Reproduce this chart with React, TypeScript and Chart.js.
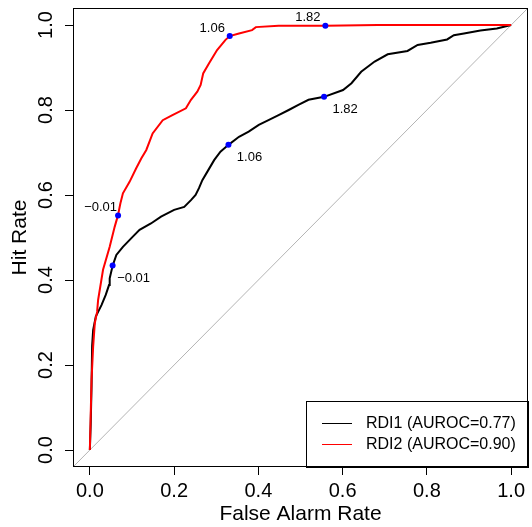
import React, { useEffect, useRef } from "react";
import { Chart, registerables } from "chart.js";

Chart.register(...registerables);

// ROC curve of RDI1 (false alarm rate, hit rate)
const rdi1Fpr = [0, 0.002, 0.004, 0.0054, 0.0078, 0.0141, 0.0196, 0.0276, 0.0377, 0.0455, 0.0471, 0.0542, 0.0629, 0.0785, 0.102, 0.118, 0.145, 0.169, 0.2, 0.224, 0.24, 0.251, 0.259, 0.267, 0.279, 0.295, 0.31, 0.329, 0.354, 0.377, 0.401, 0.424, 0.448, 0.472, 0.495, 0.519, 0.556, 0.601, 0.621, 0.644, 0.676, 0.707, 0.754, 0.778, 0.809, 0.848, 0.864, 0.888, 0.927, 0.966, 1];
const rdi1Tpr = [0, 0.06, 0.15, 0.245, 0.282, 0.314, 0.325, 0.341, 0.365, 0.388, 0.404, 0.434, 0.459, 0.478, 0.502, 0.518, 0.533, 0.549, 0.565, 0.572, 0.588, 0.6, 0.616, 0.635, 0.655, 0.682, 0.702, 0.718, 0.737, 0.749, 0.765, 0.776, 0.788, 0.8, 0.812, 0.824, 0.831, 0.847, 0.863, 0.89, 0.914, 0.931, 0.939, 0.953, 0.958, 0.966, 0.976, 0.98, 0.987, 0.992, 1];

// ROC curve of RDI2
const rdi2Fpr = [0, 0.004, 0.0078, 0.0118, 0.0172, 0.0196, 0.0313, 0.0471, 0.0589, 0.0667, 0.0724, 0.0785, 0.0943, 0.11, 0.122, 0.134, 0.149, 0.173, 0.196, 0.228, 0.24, 0.255, 0.263, 0.269, 0.283, 0.302, 0.322, 0.332, 0.354, 0.385, 0.394, 0.448, 0.559, 0.683, 1];
const rdi2Tpr = [0, 0.165, 0.243, 0.299, 0.325, 0.353, 0.424, 0.478, 0.525, 0.552, 0.58, 0.604, 0.631, 0.663, 0.686, 0.706, 0.745, 0.776, 0.788, 0.804, 0.824, 0.843, 0.859, 0.886, 0.91, 0.941, 0.965, 0.974, 0.98, 0.988, 0.995, 0.998, 0.998, 1, 1];

// cut-off points
const cutoffLabels = ["\u22120.01", "1.06", "1.82"];
const rdi1CutFpr = [0.054, 0.329, 0.556];
const rdi1CutTpr = [0.434, 0.718, 0.831];
const rdi2CutFpr = [0.067, 0.332, 0.559];
const rdi2CutTpr = [0.552, 0.974, 0.998];

const axisTicks = [0, 0.2, 0.4, 0.6, 0.8, 1.0];
const seriesNames = ["RDI1 (AUROC=0.77)", "RDI2 (AUROC=0.90)"];
const seriesColors = ["#000000", "#ff0000"];

const FONT = "'Liberation Sans', Arial, Helvetica, sans-serif";

const toXY = (xs: number[], ys: number[]) => xs.map((x, i) => ({ x, y: ys[i] }));

export default function App() {
  const ref = useRef<HTMLCanvasElement | null>(null);

  useEffect(() => {
    if (!ref.current) return;

    const boxPlugin = {
      id: "rbox",
      afterDraw(chart: any) {
        const { ctx, chartArea: a } = chart;
        ctx.save();
        ctx.strokeStyle = "#000";
        ctx.lineWidth = 1;
        ctx.strokeRect(Math.round(a.left) + 0.5, Math.round(a.top) + 0.5, Math.round(a.right - a.left) - 1, Math.round(a.bottom - a.top) - 1);
        // legend
        const lw = 222, lh = 66;
        const lx = a.right - lw, ly = a.bottom - lh;
        ctx.strokeRect(Math.round(lx) + 0.5, Math.round(ly) + 0.5, lw, lh);
        ctx.font = `16px ${FONT}`;
        ctx.textBaseline = "middle";
        ctx.textAlign = "left";
        seriesNames.forEach((name, i) => {
          const y = ly + 21.5 + i * 21;
          ctx.strokeStyle = seriesColors[i];
          ctx.lineWidth = 1;
          ctx.beginPath();
          ctx.moveTo(lx + 16, Math.round(y) + 0.5);
          ctx.lineTo(lx + 46, Math.round(y) + 0.5);
          ctx.stroke();
          ctx.fillStyle = "#000";
          ctx.fillText(name, lx + 60, y + 1);
        });
        ctx.restore();
      },
      afterDatasetsDraw(chart: any) {
        const { ctx } = chart;
        ctx.save();
        ctx.font = `13px ${FONT}`;
        ctx.fillStyle = "#000";
        ctx.textAlign = "center";
        ctx.textBaseline = "middle";
        const m1 = chart.getDatasetMeta(3);
        const m2 = chart.getDatasetMeta(4);
        cutoffLabels.forEach((lab, i) => {
          const p1 = m1.data[i];
          ctx.fillText(lab, p1.x + 21, p1.y + 13);
          const p2 = m2.data[i];
          ctx.fillText(lab, p2.x - 17.5, p2.y - 8);
        });
        ctx.restore();
      },
    };

    const chart = new Chart(ref.current, {
      type: "scatter",
      data: {
        datasets: [
          {
            label: "diag",
            data: [{ x: -0.04, y: -0.04 }, { x: 1.04, y: 1.04 }],
            showLine: true,
            borderColor: "#b4b4b4",
            borderWidth: 1,
            pointRadius: 0,
            order: 4,
          },
          {
            label: seriesNames[0],
            data: toXY(rdi1Fpr, rdi1Tpr),
            showLine: true,
            borderColor: seriesColors[0],
            borderWidth: 2,
            pointRadius: 0,
            order: 3,
          },
          {
            label: seriesNames[1],
            data: toXY(rdi2Fpr, rdi2Tpr),
            showLine: true,
            borderColor: seriesColors[1],
            borderWidth: 2,
            pointRadius: 0,
            order: 2,
          },
          {
            label: "cut1",
            data: toXY(rdi1CutFpr, rdi1CutTpr),
            pointRadius: 3,
            pointBackgroundColor: "#0000ff",
            pointBorderWidth: 0,
            order: 1,
          },
          {
            label: "cut2",
            data: toXY(rdi2CutFpr, rdi2CutTpr),
            pointRadius: 3,
            pointBackgroundColor: "#0000ff",
            pointBorderWidth: 0,
            order: 0,
          },
        ],
      },
      options: {
        animation: false,
        responsive: false,
        maintainAspectRatio: false,
        layout: { padding: { top: 8, right: 1, left: 0, bottom: 0 } },
        plugins: { legend: { display: false }, tooltip: { enabled: false } },
        scales: {
          x: {
            type: "linear",
            min: -0.04,
            max: 1.04,
            afterBuildTicks: (s: any) => {
              s.ticks = axisTicks.map((v) => ({ value: v }));
            },
            afterFit: (s: any) => {
              s.height = 60;
              s.paddingLeft = 0;
              s.paddingRight = 0;
            },
            grid: { drawOnChartArea: false, drawTicks: true, tickLength: 8, color: "#000", lineWidth: 1 },
            border: { display: false },
            ticks: {
              color: "#000",
              font: { family: FONT, size: 20 },
              padding: 4,
              maxRotation: 0,
              callback: (v: any) => Number(v).toFixed(1),
            },
            title: {
              display: true,
              text: "False Alarm Rate",
              color: "#000",
              font: { family: FONT, size: 21 },
              padding: { top: 0, bottom: 0 },
            },
          },
          y: {
            type: "linear",
            min: -0.04,
            max: 1.04,
            afterBuildTicks: (s: any) => {
              s.ticks = axisTicks.map((v) => ({ value: v }));
            },
            afterFit: (s: any) => {
              s.width = 73;
              s.paddingTop = 0;
              s.paddingBottom = 0;
            },
            grid: { drawOnChartArea: false, drawTicks: true, tickLength: 8, color: "#000", lineWidth: 1 },
            border: { display: false },
            ticks: {
              color: "#000",
              font: { family: FONT, size: 20 },
              padding: 5,
              minRotation: 90,
              maxRotation: 90,
              crossAlign: "center",
              callback: (v: any) => Number(v).toFixed(1),
            },
            title: {
              display: true,
              text: "Hit Rate",
              color: "#000",
              font: { family: FONT, size: 21 },
              padding: { top: 8, bottom: 0 },
            },
          },
        },
      },
      plugins: [boxPlugin],
    } as any);

    return () => chart.destroy();
  }, []);

  return (
    <div style={{ position: "fixed", left: 0, top: 0, width: 532, height: 527, background: "#fff" }}>
      <canvas ref={ref} width={532} height={527} style={{ display: "block", width: 532, height: 527 }} />
    </div>
  );
}
